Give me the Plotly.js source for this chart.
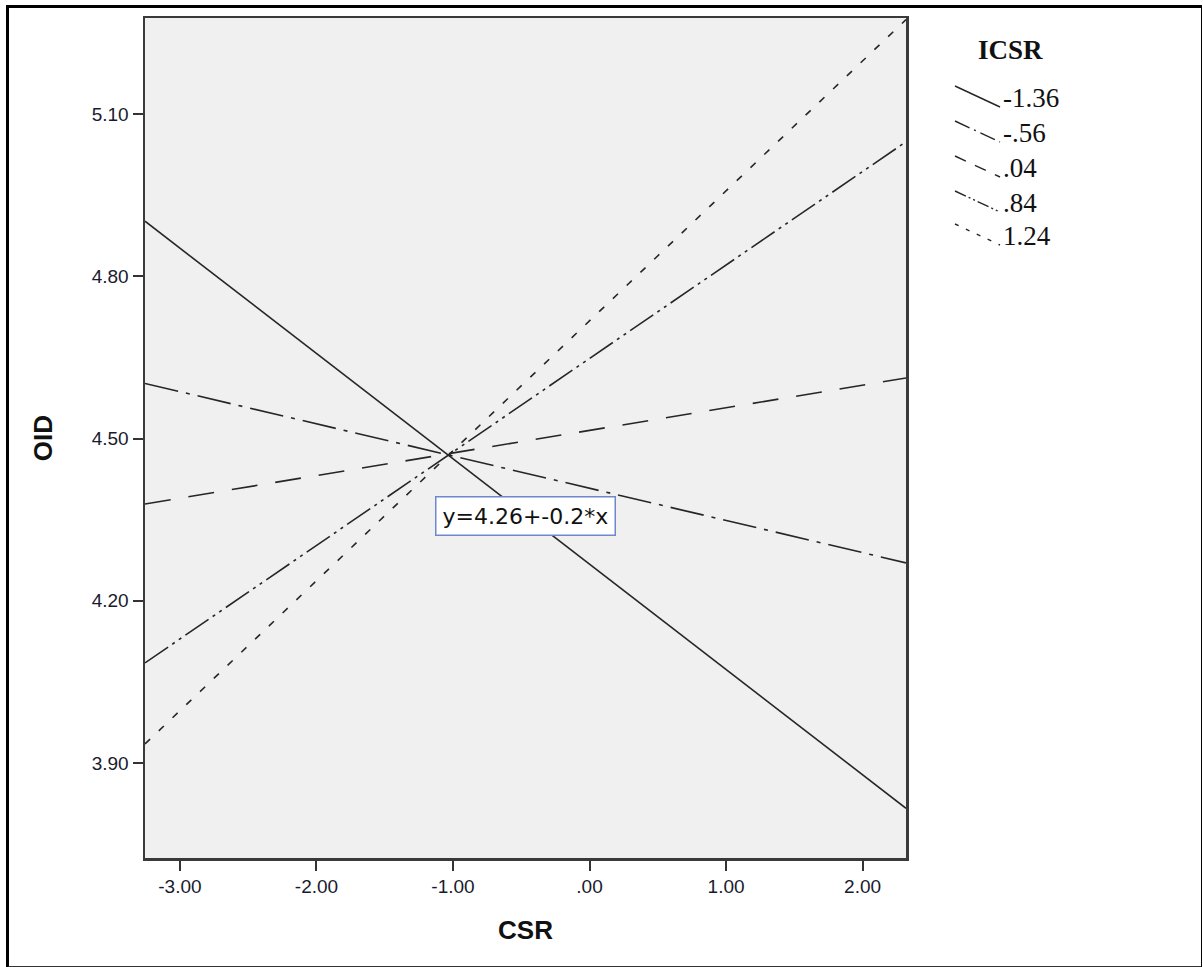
<!DOCTYPE html>
<html>
<head>
<meta charset="utf-8">
<script src="https://cdn.plot.ly/plotly-3.0.1.min.js"></script>
<style>
  html, body { margin: 0; padding: 0; background: #ffffff; }
  #wrap { position: relative; width: 1203px; height: 967px; }
  #chart { position: absolute; left: 0; top: 0; width: 1203px; height: 967px; }
  #frame { position: absolute; left: 6px; top: 5px; width: 1192px; height: 958px;
           border-top: 3px solid #000; border-left: 3px solid #000;
           border-right: 1px solid #000; border-bottom: 2px solid #333;
           pointer-events: none; }
</style>
</head>
<body>
<div id="wrap">
  <div id="chart"></div>
  <div id="frame"></div>
</div>
<script>
// ---- data ----
const icsrLabels = ["-1.36", "-.56", ".04", ".84", "1.24"];
const csrEnds = [-3.256, 2.318];                     // CSR at left and right end of each fit line
const oidAtLeft  = [4.902, 4.602, 4.379, 4.085, 3.935];
const oidAtRight = [3.816, 4.270, 4.612, 5.049, 5.275];
const xTickVals = [-3, -2, -1, 0, 1, 2];
const xTickText = ["-3.00", "-2.00", "-1.00", ".00", "1.00", "2.00"];
const yTickVals = [3.9, 4.2, 4.5, 4.8, 5.1];
const yTickText = ["3.90", "4.20", "4.50", "4.80", "5.10"];
const fitLabel = "y=4.26+-0.2*x";

// ---- styles ----
const dashes = ["solid", "34px,8px,4px,8px", "26px,18px", "28px,5px,3px,5px,3px,5px", "7px,12px"];
const legendDashes = ["solid", "16px,5px,2px,5px", "12px,10px", "12px,3px,2px,3px,2px,3px", "4px,8px"];
const lineColor = "#262626";

// layout geometry (pixels)
const W = 1203, H = 967;
const plotL = 145, plotR = 906, plotT = 18, plotB = 858;
const px = x => (x - plotL) / (plotR - plotL);
const py = y => (plotB - y) / (plotB - plotT);

const traces = icsrLabels.map((lab, i) => ({
  type: "scatter",
  mode: "lines",
  name: lab,
  x: csrEnds,
  y: [oidAtLeft[i], oidAtRight[i]],
  line: { color: lineColor, width: 1.6, dash: dashes[i] },
  showlegend: false,
  hoverinfo: "x+y+name"
}));

// custom legend (diagonal samples like the original)
const legendShapes = [];
const legendAnn = [];
const legendCenters = [98, 133, 168, 203, 236];
const serif = "Liberation Serif, Times New Roman, serif";
icsrLabels.forEach((lab, i) => {
  const yc = legendCenters[i];
  legendShapes.push({
    type: "line", xref: "paper", yref: "paper",
    x0: px(955), y0: py(yc - 12), x1: px(1000), y1: py(yc + 9),
    line: { color: lineColor, width: 1.4, dash: legendDashes[i] }
  });
  legendAnn.push({
    xref: "paper", yref: "paper", x: px(1001), y: py(yc),
    xanchor: "left", yanchor: "middle", showarrow: false,
    text: lab, font: { family: serif, size: 27, color: "#111" }
  });
});
legendAnn.push({
  xref: "paper", yref: "paper", x: px(1010), y: py(50),
  xanchor: "center", yanchor: "middle", showarrow: false,
  text: "<b>ICSR</b>", font: { family: serif, size: 27, color: "#111" }
});

// fit-line label box
legendAnn.push({
  xref: "paper", yref: "paper", x: px(525), y: py(516),
  xanchor: "center", yanchor: "middle", showarrow: false,
  text: fitLabel,
  font: { family: "DejaVu Sans, Verdana, sans-serif", size: 22, color: "#111" },
  bgcolor: "#ffffff", bordercolor: "#6f87cf", borderwidth: 1.5, borderpad: 6
});

const axisFont = { family: "Liberation Sans Narrow, Liberation Sans, Arial, sans-serif", size: 19, color: "#1a1a2e" };
const titleFont = { family: "Liberation Sans Narrow, Liberation Sans, Arial, sans-serif", size: 26, color: "#111" };

const layout = {
  width: W, height: H,
  margin: { l: plotL, r: W - plotR, t: plotT, b: H - plotB, pad: 0 },
  paper_bgcolor: "#ffffff",
  plot_bgcolor: "#f0f0f0",
  showlegend: false,
  xaxis: {
    range: csrEnds,
    tickvals: xTickVals, ticktext: xTickText,
    ticks: "outside", ticklen: 10, tickwidth: 2, tickcolor: "#333",
    showgrid: false, zeroline: false,
    showline: true, linecolor: "#3a3a3a", linewidth: 2.5, mirror: true,
    tickfont: axisFont,
    title: { text: "<b>CSR</b>", font: titleFont, standoff: 25 }
  },
  yaxis: {
    range: [3.724, 5.278],
    tickvals: yTickVals, ticktext: yTickText,
    ticks: "outside", ticklen: 10, tickwidth: 2, tickcolor: "#333",
    showgrid: false, zeroline: false,
    showline: true, linecolor: "#3a3a3a", linewidth: 2.5, mirror: true,
    tickfont: axisFont,
    title: { text: "<b>OID</b>", font: titleFont, standoff: 32 }
  },
  shapes: legendShapes,
  annotations: legendAnn
};

Plotly.newPlot("chart", traces, layout, { displayModeBar: false, staticPlot: true });
</script>
</body>
</html>
